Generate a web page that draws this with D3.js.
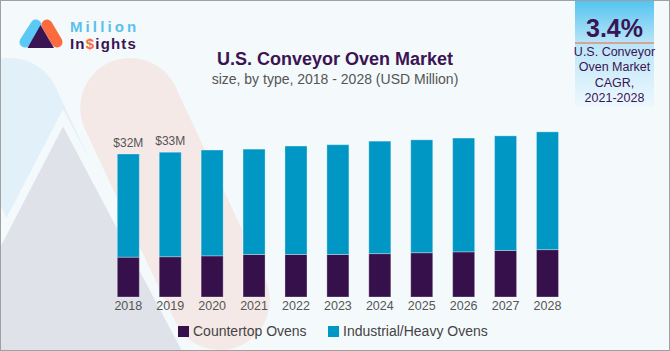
<!DOCTYPE html>
<html><head><meta charset="utf-8">
<script src="https://cdn.jsdelivr.net/npm/d3@7"></script>
<style>
html,body{margin:0;padding:0;background:#f4f9fc;}
svg{display:block;font-family:"Liberation Sans",Arial,sans-serif;}
</style></head>
<body><svg id="chart" width="670" height="351"></svg>
<script>
const years = ["2018","2019","2020","2021","2022","2023","2024","2025","2026","2027","2028"];
const countertop = [9.0, 9.1, 9.3, 9.6, 9.6, 9.6, 9.8, 10.0, 10.2, 10.5, 10.7];
const industrial = [23.3, 23.6, 23.9, 23.8, 24.5, 24.8, 25.4, 25.5, 25.7, 25.9, 26.6];
const seriesNames = ["Countertop Ovens", "Industrial/Heavy Ovens"];
const seriesColors = ["#35104a", "#0097c5"];
const labelYears = ["2018", "2019"];
const labelTexts = ["$32M", "$33M"];
const cagrValue = "3.4%";
const cagrLines = ["U.S. Conveyor", "Oven Market", "CAGR,", "2021-2028"];

const W = 670, H = 351;
const svg = d3.select("#chart");
const defs = svg.append("defs");

// background
svg.append("rect").attr("width", W).attr("height", H).attr("fill", "#f4f9fc");
const bg = svg.append("g");
bg.append("rect").attr("x", 55 - 50).attr("y", 204 - 156).attr("width", 100).attr("height", 312)
  .attr("rx", 50).attr("fill", "#e2f1f9").attr("transform", "rotate(-25,55,204)");
bg.append("rect").attr("x", 175 - 50).attr("y", 204 - 156).attr("width", 100).attr("height", 312)
  .attr("rx", 50).attr("fill", "#f5e9e8").attr("transform", "rotate(-25,175,204)");
bg.append("path").attr("d", "M63,118 L-145,518 L275,518 Z")
  .attr("fill", "#dfe2e9").attr("stroke", "#f4f9fc").attr("stroke-width", 8);

// logo
const logo = svg.append("g");
logo.append("line").attr("x1", 25).attr("y1", 42).attr("x2", 36).attr("y2", 25)
  .attr("stroke", "#5bc8f5").attr("stroke-width", 11).attr("stroke-linecap", "round");
logo.append("line").attr("x1", 47).attr("y1", 25).attr("x2", 57).attr("y2", 42)
  .attr("stroke", "#fb6b3d").attr("stroke-width", 11).attr("stroke-linecap", "round");
logo.append("path").attr("d", "M40.5,25 L27.5,48 L54,48 Z").attr("fill", "#3a1453");
logo.append("text").attr("x", 70).attr("y", 31.8).attr("font-size", 15).attr("font-weight", "bold")
  .attr("letter-spacing", 3.1).attr("fill", "#5bc0eb").text("Million");
const ins = logo.append("text").attr("x", 70).attr("y", 48.8).attr("font-size", 15)
  .attr("font-weight", "bold").attr("letter-spacing", 1.2).attr("fill", "#3a1453");
ins.append("tspan").text("In");
ins.append("tspan").attr("fill", "#fb6b3d").text("$");
ins.append("tspan").text("ights");

// title
svg.append("text").attr("x", 335).attr("y", 65).attr("text-anchor", "middle")
  .attr("font-size", 18).attr("font-weight", "bold").attr("fill", "#3a1453")
  .text("U.S. Conveyor Oven Market");
svg.append("text").attr("x", 335).attr("y", 84).attr("text-anchor", "middle")
  .attr("font-size", 14).attr("fill", "#555")
  .text("size, by type, 2018 - 2028 (USD Million)");

// CAGR box
const grad = defs.append("linearGradient").attr("id", "cg").attr("x1", 0).attr("y1", 0).attr("x2", 0).attr("y2", 1);
grad.append("stop").attr("offset", "0%").attr("stop-color", "#52c3f0");
grad.append("stop").attr("offset", "40%").attr("stop-color", "#b9e5f8");
grad.append("stop").attr("offset", "100%").attr("stop-color", "#eef8fd");
svg.append("rect").attr("x", 575).attr("y", 0).attr("width", 79).attr("height", 107).attr("fill", "url(#cg)");
svg.append("text").attr("x", 614.5).attr("y", 36.5).attr("text-anchor", "middle")
  .attr("font-size", 25).attr("font-weight", "bold").attr("fill", "#3a1453").text(cagrValue);
svg.append("line").attr("x1", 575).attr("x2", 654).attr("y1", 43).attr("y2", 43)
  .attr("stroke", "#e8693c").attr("stroke-width", 1.2);
svg.append("g").selectAll("text").data(cagrLines).join("text")
  .attr("x", 614.5).attr("y", (d, i) => 56 + i * 15.3).attr("text-anchor", "middle")
  .attr("font-size", 12.5).attr("fill", "#3a1453").text(d => d);

// scales
const x = d3.scaleBand().domain(years).range([107.34, 568.46]).paddingInner(0.475).paddingOuter(0.2375);
const y = d3.scaleLinear().domain([0, 40]).range([297, 297 - 40 * 4.427]);

const rows = years.map((yr, i) => ({ year: yr, countertop: countertop[i], industrial: industrial[i] }));
const stack = d3.stack().keys(["countertop", "industrial"])(rows);

const bars = svg.append("g");
bars.selectAll("g").data(stack).join("g")
  .attr("fill", (d, i) => seriesColors[i])
  .selectAll("rect").data(d => d).join("rect")
  .attr("x", d => x(d.data.year))
  .attr("width", x.bandwidth())
  .attr("y", d => y(d[1]))
  .attr("height", d => y(d[0]) - y(d[1]))
  .attr("stroke", "rgba(255,255,255,0.3)").attr("stroke-width", 1);

// value labels
const totals = {};
rows.forEach(r => totals[r.year] = r.countertop + r.industrial);
svg.append("g").selectAll("text").data(labelYears).join("text")
  .attr("x", d => x(d) + x.bandwidth() / 2)
  .attr("y", d => y(totals[d]) - 7.5)
  .attr("text-anchor", "middle").attr("font-size", 12).attr("fill", "#555")
  .text((d, i) => labelTexts[i]);

// axis
const ax = svg.append("g").attr("transform", "translate(0,297)")
  .call(d3.axisBottom(x).tickSize(0).tickPadding(4));
ax.select(".domain").remove();
ax.selectAll("text").attr("font-size", 12.5).attr("fill", "#555")
  .attr("font-family", "'Liberation Sans',Arial,sans-serif");

// legend
const legX = [178, 328];
const leg = svg.append("g").selectAll("g").data(seriesNames).join("g")
  .attr("transform", (d, i) => `translate(${legX[i]},326)`);
leg.append("rect").attr("width", 11).attr("height", 11).attr("fill", (d, i) => seriesColors[i]);
leg.append("text").attr("x", 15).attr("y", 9.5).attr("font-size", 14).attr("fill", "#444").text(d => d);

// border
svg.append("rect").attr("x", 0.5).attr("y", 0.5).attr("width", W - 1).attr("height", H - 1)
  .attr("fill", "none").attr("stroke", "#a0a0a0");
</script></body></html>
